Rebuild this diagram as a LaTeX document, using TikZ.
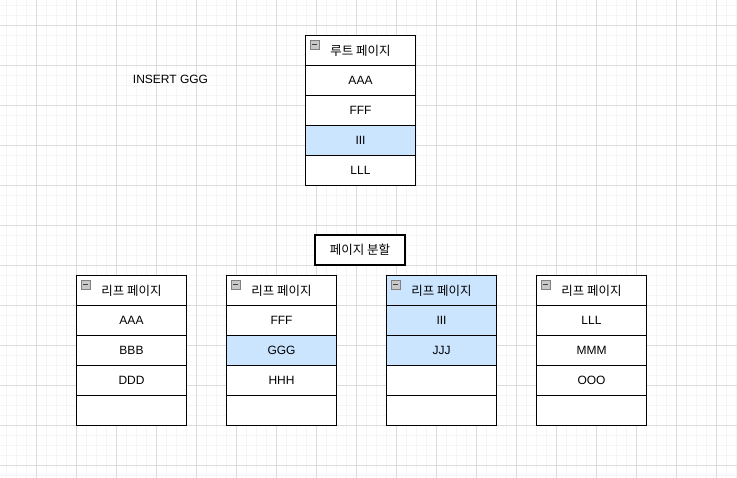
\documentclass[tikz,border=0pt]{standalone}
\usepackage{fontspec}
\setmainfont{Liberation Sans}
\newfontfamily\kr{Noto Sans CJK KR}
\definecolor{hlblue}{HTML}{CCE5FF}
\definecolor{gridminor}{HTML}{F5F5F5}
\definecolor{gridmajor}{HTML}{DCDCDC}
\definecolor{iconfill}{HTML}{C8C8C8}
\definecolor{iconline}{HTML}{808080}
\newcommand\rowcell[5]{\node[cell,#4] (#1) at (#2,#3) {#5};}
\newcommand\hdrcell[5]{%
  \node[hdr,#4] (#1) at (#2,#3) {#5};
  \node[icon] (#1-ic) at ([xshift=5pt,yshift=-5pt]#1.north west) {};}
\begin{document}
\begin{tikzpicture}[x=1pt,y=-1pt,
  cell/.style={draw=black, line width=1pt, minimum width=110pt, minimum height=30pt,
    inner sep=0pt, anchor=north west, fill=white, font=\fontsize{12}{14}\selectfont},
  hl/.style={fill=hlblue},
  hdr/.style={cell, font=\kr\fontsize{12.5}{14}\selectfont},
  icon/.style={draw=iconline, fill=iconfill, line width=0.6pt, minimum size=9pt,
    inner sep=0pt, anchor=north west,
    path picture={\draw[line width=1pt,black!75]
      ([xshift=2pt]path picture bounding box.west) --
      ([xshift=-2pt]path picture bounding box.east);}},
  minor/.style={draw=gridminor, line width=0.8pt},
  major/.style={draw=gridmajor, line width=0.8pt},
  boxlabel/.style={draw=black, line width=2pt, minimum width=90pt, minimum height=30pt,
    inner sep=0pt, fill=white, font=\kr\fontsize{12.5}{14}\selectfont},
  plain/.style={font=\fontsize{12}{14}\selectfont, inner sep=0pt}]
\useasboundingbox (0,0) rectangle (737,478);
\fill[white] (0,0) rectangle (737,478);
% grid
\foreach \x in {6,16,...,736} \draw[minor] (\x,0) -- (\x,478);
\foreach \y in {5,15,...,475} \draw[minor] (0,\y) -- (737,\y);
\foreach \x in {36,76,...,716} \draw[major] (\x,0) -- (\x,478);
\foreach \y in {25,65,...,465} \draw[major] (0,\y) -- (737,\y);
% label
\node[plain] (ins) at (170.5,79) {INSERT GGG};
% root page
\hdrcell{root}{305}{35}{}{루트 페이지}
\rowcell{r1}{305}{65}{}{AAA}
\rowcell{r2}{305}{95}{}{FFF}
\rowcell{r3}{305}{125}{hl}{III}
\rowcell{r4}{305}{155}{}{LLL}
% split label
\node[boxlabel] (split) at (360,250) {페이지 분할};
% leaf 1
\hdrcell{la}{76}{275}{}{리프 페이지}
\rowcell{la1}{76}{305}{}{AAA}
\rowcell{la2}{76}{335}{}{BBB}
\rowcell{la3}{76}{365}{}{DDD}
\rowcell{la4}{76}{395}{}{}
% leaf 2
\hdrcell{lb}{226}{275}{}{리프 페이지}
\rowcell{lb1}{226}{305}{}{FFF}
\rowcell{lb2}{226}{335}{hl}{GGG}
\rowcell{lb3}{226}{365}{}{HHH}
\rowcell{lb4}{226}{395}{}{}
% leaf 3
\hdrcell{lc}{386}{275}{hl}{리프 페이지}
\rowcell{lc1}{386}{305}{hl}{III}
\rowcell{lc2}{386}{335}{hl}{JJJ}
\rowcell{lc3}{386}{365}{}{}
\rowcell{lc4}{386}{395}{}{}
% leaf 4
\hdrcell{ld}{536}{275}{}{리프 페이지}
\rowcell{ld1}{536}{305}{}{LLL}
\rowcell{ld2}{536}{335}{}{MMM}
\rowcell{ld3}{536}{365}{}{OOO}
\rowcell{ld4}{536}{395}{}{}
\end{tikzpicture}
\end{document}
